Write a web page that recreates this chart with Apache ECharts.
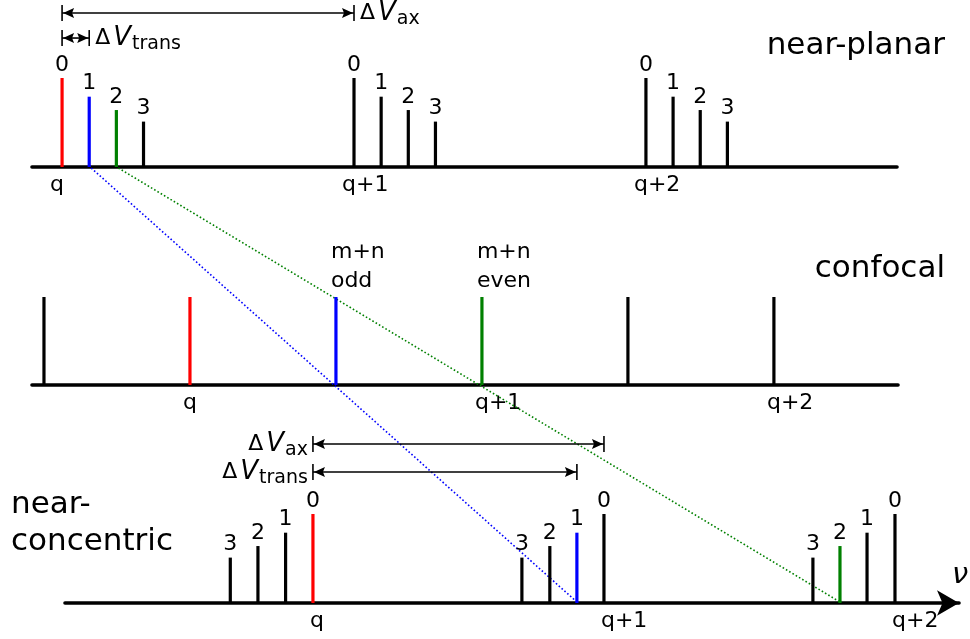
<!DOCTYPE html>
<html>
<head>
<meta charset="utf-8">
<script src="https://cdn.jsdelivr.net/npm/echarts@6/dist/echarts.min.js"></script>
<style>
html, body { margin: 0; padding: 0; background: #fff; }
#main { width: 970px; height: 639px; }
</style>
</head>
<body>
<div id="main"></div>
<script>
// frequencies are in units of the axial mode spacing, counted from mode q
var qTicks = [0, 1, 2];
var qLabels = ['q', 'q+1', 'q+2'];
var modeHeight = [1, 0.79, 0.64, 0.51];   // stem height by transverse order

// near-planar resonator
var planarFreq = [0, 0.093, 0.186, 0.279, 1, 1.093, 1.186, 1.279, 2, 2.093, 2.186, 2.279];
var planarOrder = [0, 1, 2, 3, 0, 1, 2, 3, 0, 1, 2, 3];
var planarAxial = [0, 0, 0, 0, 1, 1, 1, 1, 2, 2, 2, 2];

// confocal resonator
var confFreq = [-0.5, 0, 0.5, 1, 1.5, 2];
var confOrder = [1, 0, 1, 2, 1, 0];
var confAxial = [-1, 0, 0, 0, 1, 2];
var confHeight = [1, 1, 1, 1, 1, 1];
var confNote = ['', '', 'm+n\nodd', 'm+n\neven', '', ''];

// near-concentric resonator
var concFreq = [-0.284, -0.189, -0.094, 0, 0.718, 0.814, 0.907, 1, 1.718, 1.811, 1.904, 2];
var concOrder = [3, 2, 1, 0, 3, 2, 1, 0, 3, 2, 1, 0];
var concAxial = [-3, -2, -1, 0, -2, -1, 0, 1, -1, 0, 1, 2];

// spacings marked with arrows
var spanNames = ['ax', 'trans'];
var planarSpan = [1, 0.093];
var concSpan = [1, 0.907];

// modes of order q joined by dotted lines: transverse order
var linkedOrder = [1, 2];

var FONT = 'DejaVu Sans';
var modeColors = ['#ff0000', '#0000ff', '#008000'];

function heightsOf(order) {
	return order.map(function (o) { return modeHeight[o]; });
}

function stemData(freq, heights) {
	return freq.map(function (f, i) { return [f, heights[i]]; });
}

function stemRenderer(order, axial, labels, noteStyle) {
	return function (params, api) {
		var i = params.dataIndex;
		var top = api.coord([api.value(0), api.value(1)]);
		var base = api.coord([api.value(0), 0]);
		var color = (axial[i] === 0 && order[i] < 3) ? modeColors[order[i]] : '#000';
		var kids = [{
			type: 'line',
			shape: { x1: base[0], y1: base[1], x2: top[0], y2: top[1] },
			style: { stroke: color, lineWidth: 3.2 }
		}];
		if (labels && labels[i]) {
			kids.push({
				type: 'text',
				x: top[0] + (noteStyle ? -5 : 0),
				y: top[1] - (noteStyle ? 1 : 0),
				style: {
					text: labels[i],
					fill: '#000',
					fontSize: 22,
					fontFamily: FONT,
					align: noteStyle ? 'left' : 'center',
					verticalAlign: 'bottom',
					lineHeight: noteStyle ? 29 : 26
				}
			});
		}
		return { type: 'group', children: kids };
	};
}

function spanRenderer(side) {
	return function (params, api) {
		var a = api.coord([api.value(0), api.value(2)]);
		var b = api.coord([api.value(1), api.value(2)]);
		var y = a[1];
		var name = spanNames[params.dataIndex];
		var kids = [
			{ type: 'line', shape: { x1: a[0], y1: y, x2: b[0], y2: y }, style: { stroke: '#000', lineWidth: 1.6 } },
			{ type: 'line', shape: { x1: a[0], y1: y - 8, x2: a[0], y2: y + 8 }, style: { stroke: '#000', lineWidth: 1.6 } },
			{ type: 'line', shape: { x1: b[0], y1: y - 8, x2: b[0], y2: y + 8 }, style: { stroke: '#000', lineWidth: 1.6 } },
			{ type: 'polygon', shape: { points: [[a[0] + 1, y], [a[0] + 12, y - 5], [a[0] + 10, y], [a[0] + 12, y + 5]] }, style: { fill: '#000' } },
			{ type: 'polygon', shape: { points: [[b[0] - 1, y], [b[0] - 12, y - 5], [b[0] - 10, y], [b[0] - 12, y + 5]] }, style: { fill: '#000' } },
			{
				type: 'text',
				x: side === 'right' ? b[0] + 6 : a[0] - 5,
				y: y,
				style: {
					text: '{d|Δ}{v|V}{s|' + name + '}',
					align: side === 'right' ? 'left' : 'right',
					verticalAlign: 'middle',
					rich: {
						d: { fontSize: 22, fontFamily: FONT, fill: '#000', padding: [0, 3, 0, 0] },
						v: { fontSize: 26, fontFamily: FONT, fontStyle: 'italic', fill: '#000' },
						s: { fontSize: 19, fontFamily: FONT, fill: '#000', padding: [12, 0, 0, 1] }
					}
				}
			}
		];
		return { type: 'group', children: kids };
	};
}

function axisX(gridIndex, min, max, shift, withArrow) {
	var ax = {
		type: 'value',
		gridIndex: gridIndex,
		min: min,
		max: max,
		splitLine: { show: false },
		axisTick: { show: false },
		axisLine: {
			show: true,
			lineStyle: { color: '#000', width: 3.6 }
		},
		axisLabel: {
			customValues: qTicks,
			formatter: function (v) { return qLabels[qTicks.indexOf(v)]; },
			color: '#000',
			fontSize: 22,
			fontFamily: FONT,
			margin: 7,
			align: 'left',
			padding: [0, 0, 0, shift]
		}
	};
	if (withArrow) {
		ax.axisLine.symbol = ['none', 'arrow'];
		ax.axisLine.symbolSize = [19, 22];
		ax.name = 'ν';
		ax.nameLocation = 'end';
		ax.nameGap = -7;
		ax.nameTextStyle = { fontSize: 29, fontStyle: 'italic', fontFamily: FONT, color: '#000', align: 'left', verticalAlign: 'bottom', padding: [0, 0, 13, 0] };
	}
	return ax;
}

function axisY(gridIndex) {
	return { type: 'value', gridIndex: gridIndex, min: 0, max: 1, show: false };
}

var titleStyle = { fontSize: 31, fontWeight: 'normal', fontFamily: FONT, color: '#000' };

var chart = echarts.init(document.getElementById('main'));
var option = {
	animation: false,
	backgroundColor: '#fff',
	title: [
		{ text: 'near-planar', right: 25, top: 30, padding: 0, textStyle: titleStyle },
		{ text: 'confocal', right: 25, top: 253, padding: 0, textStyle: titleStyle },
		{ text: 'near-\nconcentric', left: 11, top: 486, padding: 0, textStyle: echarts.util.extend({ lineHeight: 37 }, titleStyle) }
	],
	grid: [
		{ left: 32, right: 73, top: 78, bottom: 472 },
		{ left: 32, right: 72, top: 297, bottom: 254 },
		{ left: 65, right: 11, top: 514, bottom: 36 }
	],
	xAxis: [
		axisX(0, -0.103, 2.86, -12, false),
		axisX(1, -0.541, 2.425, -7, false),
		axisX(2, -0.852, 2.22, -3, true)
	],
	yAxis: [axisY(0), axisY(1), axisY(2)],
	series: [
		{
			type: 'custom', xAxisIndex: 0, yAxisIndex: 0, silent: true,
			data: stemData(planarFreq, heightsOf(planarOrder)),
			encode: { x: 0, y: 1 },
			renderItem: stemRenderer(planarOrder, planarAxial, planarOrder.map(String), false)
		},
		{
			type: 'custom', xAxisIndex: 0, yAxisIndex: 0, silent: true,
			data: planarSpan.map(function (s, i) { return [0, s, [1.73, 1.449][i]]; }),
			encode: { x: [0, 1], y: 2 },
			renderItem: spanRenderer('right')
		},
		{
			type: 'custom', xAxisIndex: 1, yAxisIndex: 1, silent: true,
			data: stemData(confFreq, confHeight),
			encode: { x: 0, y: 1 },
			renderItem: stemRenderer(confOrder, confAxial, confNote, true)
		},
		{
			type: 'custom', xAxisIndex: 2, yAxisIndex: 2, silent: true,
			data: stemData(concFreq, heightsOf(concOrder)),
			encode: { x: 0, y: 1 },
			renderItem: stemRenderer(concOrder, concAxial, concOrder.map(String), false)
		},
		{
			type: 'custom', xAxisIndex: 2, yAxisIndex: 2, silent: true,
			data: concSpan.map(function (s, i) { return [0, s, [1.787, 1.472][i]]; }),
			encode: { x: [0, 1], y: 2 },
			renderItem: spanRenderer('left')
		}
	]
};
chart.setOption(option);

// dotted lines joining the same q mode in the top and bottom panels
function findFreq(freq, order, axial, o) {
	for (var i = 0; i < freq.length; i++) {
		if (order[i] === o && axial[i] === 0) return freq[i];
	}
}
var links = linkedOrder.map(function (o) {
	var p1 = chart.convertToPixel({ gridIndex: 0 }, [findFreq(planarFreq, planarOrder, planarAxial, o), 0]);
	var p2 = chart.convertToPixel({ gridIndex: 2 }, [findFreq(concFreq, concOrder, concAxial, o), 0]);
	return {
		type: 'line',
		silent: true,
		z: 1,
		shape: { x1: p1[0] + 2, y1: p1[1] + 1, x2: p2[0], y2: p2[1] - 1 },
		style: { stroke: modeColors[o], lineWidth: 1.6, lineDash: [1.6, 2.2] }
	};
});
chart.setOption({ graphic: links });

window.addEventListener('resize', function () {
	chart.resize();
});
</script>
</body>
</html>
